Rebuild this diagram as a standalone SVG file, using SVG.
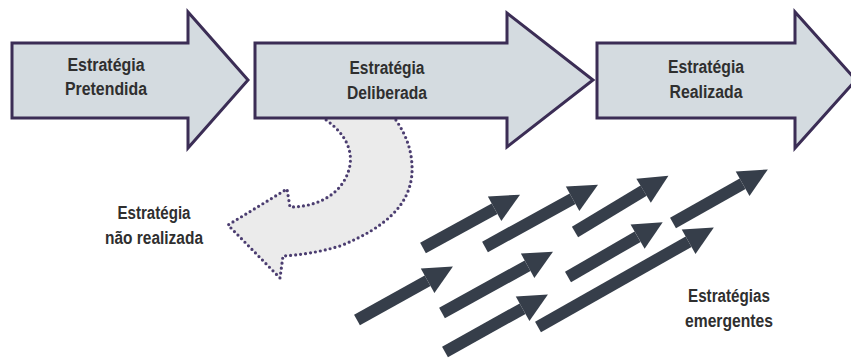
<svg xmlns="http://www.w3.org/2000/svg" width="851" height="358" viewBox="0 0 851 358">
  <style>
    .stage { fill: #d4dbe0; stroke: #3b2d55; stroke-width: 3; stroke-linejoin: miter; }
    .lbl { font-family: "Liberation Sans", Arial, sans-serif; font-weight: bold; font-size: 17.5px; fill: #2f2f2f; text-anchor: middle; }
    .unreal { fill: #ebebeb; stroke: #4b3d70; stroke-width: 3.2; stroke-dasharray: 0 5; stroke-linecap: round; stroke-linejoin: round; }
    .emerg { stroke: #363e4a; stroke-width: 12; fill: none; marker-end: url(#head); }
  </style>
  <defs>
    <marker id="head" markerUnits="userSpaceOnUse" markerWidth="32" markerHeight="32" refX="0" refY="14" orient="auto" overflow="visible">
      <path d="M0,0 L29,14 L0,28 Z" fill="#363e4a"/>
    </marker>
  </defs>

  <!-- unrealized strategy: dotted U-turn arrow, partly behind the deliberate stage -->
  <g id="unrealized">
    <path class="unreal" d="M393,116 C405,132 413,150 412,173 C410,205 385,228 340,246 C320,252 300,255 283,256 L280,278 L228,225 L287,189 L290,207 C320,207 345,192 350,165 C353,145 340,128 320,116 Z"/>
    <text class="lbl"><tspan x="154" y="219" textLength="73" lengthAdjust="spacingAndGlyphs">Estratégia</tspan><tspan x="154" y="244" textLength="98" lengthAdjust="spacingAndGlyphs">não realizada</tspan></text>
  </g>

  <!-- main stages -->
  <g id="intended">
    <path class="stage" d="M12,43 L188,43 L188,12 L248,80 L188,148 L188,118 L12,118 Z"/>
    <text class="lbl"><tspan x="106" y="71" textLength="77" lengthAdjust="spacingAndGlyphs">Estratégia</tspan><tspan x="106" y="95" textLength="82" lengthAdjust="spacingAndGlyphs">Pretendida</tspan></text>
  </g>

  <g id="deliberate">
    <path class="stage" d="M255,43 L507,43 L507,13 L593,80 L507,147 L507,118 L255,118 Z"/>
    <text class="lbl"><tspan x="387" y="74" textLength="75" lengthAdjust="spacingAndGlyphs">Estratégia</tspan><tspan x="387" y="99" textLength="80" lengthAdjust="spacingAndGlyphs">Deliberada</tspan></text>
  </g>

  <g id="realized">
    <path class="stage" d="M597,43 L795,43 L795,12 L856,80 L795,148 L795,118 L597,118 Z"/>
    <text class="lbl"><tspan x="706" y="73" textLength="76" lengthAdjust="spacingAndGlyphs">Estratégia</tspan><tspan x="706" y="98" textLength="73" lengthAdjust="spacingAndGlyphs">Realizada</tspan></text>
  </g>

  <!-- emergent strategies -->
  <g id="emergent">
    <line class="emerg" x1="423" y1="248" x2="494.6" y2="208.7"/>
    <line class="emerg" x1="485" y1="247" x2="572.6" y2="198.7"/>
    <line class="emerg" x1="575" y1="232" x2="643.6" y2="190.7"/>
    <line class="emerg" x1="673" y1="223" x2="742.6" y2="183.7"/>
    <line class="emerg" x1="357" y1="320" x2="427.6" y2="280.7"/>
    <line class="emerg" x1="442" y1="313" x2="527.6" y2="265.7"/>
    <line class="emerg" x1="568" y1="277" x2="637.6" y2="236.7"/>
    <line class="emerg" x1="445" y1="352" x2="522.6" y2="308.7"/>
    <line class="emerg" x1="538" y1="327" x2="688.6" y2="241.7"/>
    <text class="lbl"><tspan x="729" y="302" textLength="82" lengthAdjust="spacingAndGlyphs">Estratégias</tspan><tspan x="729" y="327" textLength="88" lengthAdjust="spacingAndGlyphs">emergentes</tspan></text>
  </g>
</svg>
